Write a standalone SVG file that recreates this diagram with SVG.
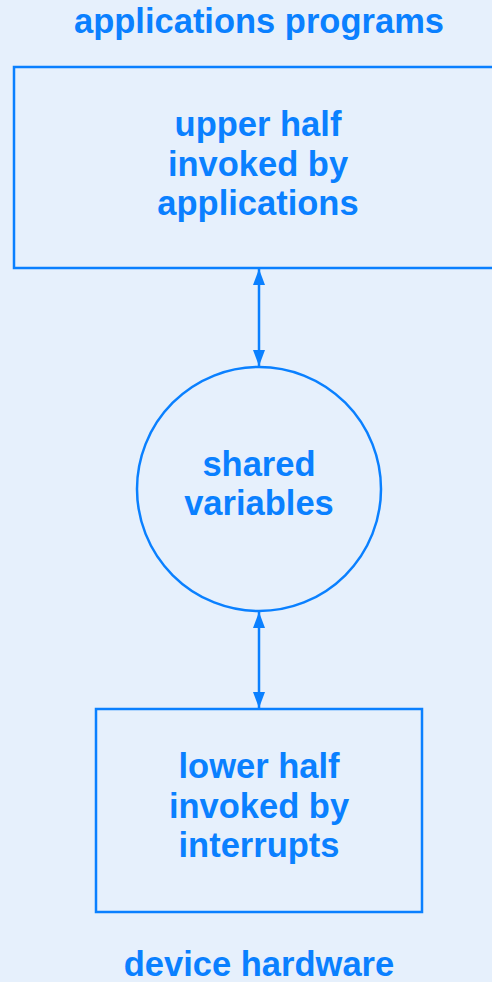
<svg xmlns="http://www.w3.org/2000/svg" width="492" height="982" viewBox="0 0 492 982">
<style>
.t{font-family:"Liberation Sans",Arial,sans-serif;font-weight:bold;font-size:34.5px;fill:#0a80ff;text-anchor:middle}
.s{fill:none;stroke:#0a80ff;stroke-width:2.5}
</style>
<defs>
<marker id="ah" viewBox="0 0 16 12" refX="16" refY="6" markerWidth="16" markerHeight="12" markerUnits="userSpaceOnUse" orient="auto-start-reverse">
<path d="M0,0 L16,6 L0,12 Z" fill="#0a80ff"/>
</marker>
</defs>
<rect width="492" height="982" fill="#e6f0fc"/>
<g id="top-label"><text class="t" x="259" y="33">applications programs</text></g>
<g id="upper">
<rect class="s" x="14" y="67" width="490" height="201"/>
<text class="t" x="258" y="136">upper half</text>
<text class="t" x="258" y="176">invoked by</text>
<text class="t" x="258" y="215">applications</text>
</g>
<g id="shared">
<circle class="s" cx="259" cy="489" r="122"/>
<text class="t" x="259" y="476">shared</text>
<text class="t" x="259" y="515">variables</text>
</g>
<g id="lower">
<rect class="s" x="96" y="709" width="326" height="203"/>
<text class="t" x="259" y="778">lower half</text>
<text class="t" x="259" y="818">invoked by</text>
<text class="t" x="259" y="857">interrupts</text>
</g>
<g id="bottom-label"><text class="t" x="259" y="976">device hardware</text></g>
<g id="connectors">
<line class="s" x1="259" y1="269" x2="259" y2="366" marker-start="url(#ah)" marker-end="url(#ah)"/>
<line class="s" x1="259" y1="612" x2="259" y2="708" marker-start="url(#ah)" marker-end="url(#ah)"/>
</g>
</svg>
